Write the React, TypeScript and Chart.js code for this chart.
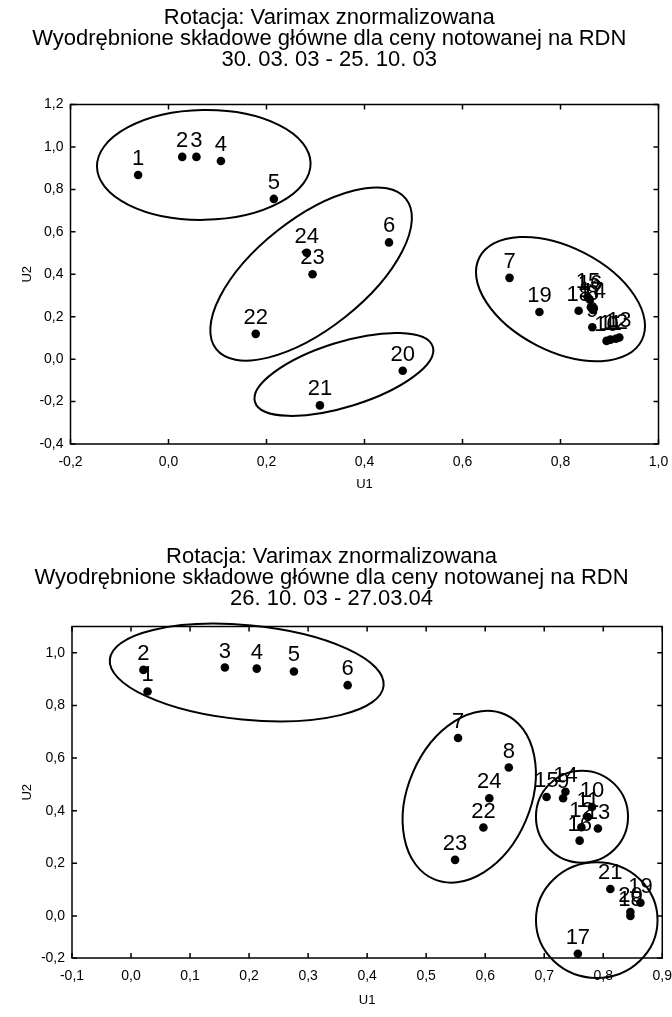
import { useEffect, useRef } from 'react';
import { Chart, registerables } from 'chart.js';

Chart.register(...registerables);

// ---------- Period 1: 30.03.03 - 25.10.03 ----------
const title1 = [
  'Rotacja: Varimax znormalizowana',
  'Wyodrębnione składowe główne dla ceny notowanej na RDN',
  '30. 03. 03 - 25. 10. 03',
];
const ids1 = ['1', '2', '3', '4', '5', '6', '7', '8', '9', '10', '11', '12', '13', '14', '15', '16', '17', '18', '19', '20', '21', '22', '23', '24'];
const u1Period1 = [-0.062, 0.028, 0.057, 0.107, 0.215, 0.45, 0.696, 0.866, 0.865, 0.894, 0.902, 0.913, 0.92, 0.868, 0.856, 0.86, 0.862, 0.837, 0.757, 0.478, 0.309, 0.178, 0.294, 0.282];
const u2Period1 = [0.868, 0.953, 0.953, 0.934, 0.755, 0.55, 0.383, 0.232, 0.15, 0.086, 0.092, 0.096, 0.102, 0.24, 0.29, 0.28, 0.245, 0.228, 0.222, -0.055, -0.218, 0.119, 0.4, 0.501];
const xTicks1 = [-0.2, 0, 0.2, 0.4, 0.6, 0.8, 1.0];
const yTicks1 = [-0.4, -0.2, 0, 0.2, 0.4, 0.6, 0.8, 1.0, 1.2];
// cluster outlines: centre (U1, U2), semi-axes in U1 units, rotation in degrees
const clusterCx1 = [0.072, 0.291, 0.358, 0.8];
const clusterCy1 = [0.915, 0.401, -0.072, 0.283];
const clusterA1 = [0.218, 0.247, 0.19, 0.186];
const clusterB1 = [0.112, 0.112, 0.066, 0.106];
const clusterRot1 = [-1, -38.4, -17.3, 27.1];

// ---------- Period 2: 26.10.03 - 27.03.04 ----------
const title2 = [
  'Rotacja: Varimax znormalizowana',
  'Wyodrębnione składowe główne dla ceny notowanej na RDN',
  '26. 10. 03 - 27.03.04',
];
const ids2 = ['1', '2', '3', '4', '5', '6', '7', '8', '9', '10', '11', '12', '13', '14', '15', '16', '17', '18', '19', '20', '21', '22', '23', '24'];
const u1Period2 = [0.028, 0.021, 0.159, 0.213, 0.276, 0.367, 0.554, 0.64, 0.732, 0.781, 0.774, 0.763, 0.791, 0.736, 0.704, 0.76, 0.757, 0.846, 0.863, 0.846, 0.812, 0.597, 0.549, 0.607];
const u2Period2 = [0.853, 0.935, 0.944, 0.94, 0.929, 0.877, 0.676, 0.564, 0.447, 0.414, 0.376, 0.337, 0.332, 0.472, 0.452, 0.286, -0.144, 0.0, 0.05, 0.015, 0.102, 0.336, 0.213, 0.447];
const xTicks2 = [-0.1, 0, 0.1, 0.2, 0.3, 0.4, 0.5, 0.6, 0.7, 0.8, 0.9];
const yTicks2 = [-0.16, 0, 0.2, 0.4, 0.6, 0.8, 1.0];
const clusterCx2 = [0.196, 0.573, 0.764, 0.789];
const clusterCy2 = [0.925, 0.453, 0.377, -0.016];
const clusterA2 = [0.233, 0.152, 0.078, 0.103];
const clusterB2 = [0.08, 0.104, 0.078, 0.098];
const clusterRot2 = [5.5, -66.8, 0, 0];

const FONT = "'Liberation Sans', Arial, Helvetica, sans-serif";

const fmt = (v: number) => (Math.abs(v) < 1e-9 ? 0 : v).toFixed(1).replace('.', ',');

type PanelProps = {
  title: string[];
  ids: string[];
  xs: number[];
  ys: number[];
  xTicks: number[];
  yTicks: number[];
  xMin: number;
  xMax: number;
  yMin: number;
  yMax: number;
  cx: number[];
  cy: number[];
  ca: number[];
  cb: number[];
  crot: number[];
  height: number;
  titleTop: number;
  titleGap: number;
  yAxisWidth: number;
  xAxisHeight: number;
  rightPad: number;
  xTitleBottom: number;
};

function ScatterPanel(p: PanelProps) {
  const ref = useRef<HTMLCanvasElement | null>(null);

  useEffect(() => {
    if (!ref.current) return;

    const outlinePlugin = {
      id: 'clusterOutlines',
      afterDatasetsDraw(chart: any) {
        const ctx = chart.ctx;
        const sx = chart.scales.x;
        const sy = chart.scales.y;
        const unit = Math.abs(sx.getPixelForValue(1) - sx.getPixelForValue(0));
        ctx.save();
        ctx.strokeStyle = '#000';
        ctx.lineWidth = 2;
        p.cx.forEach((c, i) => {
          ctx.beginPath();
          ctx.ellipse(
            sx.getPixelForValue(c),
            sy.getPixelForValue(p.cy[i]),
            p.ca[i] * unit,
            p.cb[i] * unit,
            (p.crot[i] * Math.PI) / 180,
            0,
            Math.PI * 2
          );
          ctx.stroke();
        });
        ctx.restore();
      },
    };

    const labelPlugin = {
      id: 'pointIds',
      afterDatasetsDraw(chart: any) {
        const ctx = chart.ctx;
        const meta = chart.getDatasetMeta(0);
        const data = chart.data.datasets[0].data as any[];
        ctx.save();
        ctx.fillStyle = '#000';
        ctx.font = `22px ${FONT}`;
        ctx.textAlign = 'center';
        ctx.textBaseline = 'alphabetic';
        meta.data.forEach((el: any, i: number) => {
          ctx.fillText(data[i].id, el.x, el.y - 10);
        });
        ctx.restore();
      },
    };

    const framePlugin = {
      id: 'frame',
      afterDraw(chart: any) {
        const ctx = chart.ctx;
        const { left, right, top, bottom } = chart.chartArea;
        const sx = chart.scales.x;
        const sy = chart.scales.y;
        const t = 5;
        ctx.save();
        ctx.strokeStyle = '#000';
        ctx.lineWidth = 1.5;
        ctx.strokeRect(left, top, right - left, bottom - top);
        ctx.beginPath();
        sx.ticks.forEach((tk: any) => {
          const x = sx.getPixelForValue(tk.value);
          ctx.moveTo(x, bottom);
          ctx.lineTo(x, bottom - t);
          ctx.moveTo(x, top);
          ctx.lineTo(x, top + t);
        });
        sy.ticks.forEach((tk: any) => {
          const y = sy.getPixelForValue(tk.value);
          ctx.moveTo(left, y);
          ctx.lineTo(left + t, y);
          ctx.moveTo(right, y);
          ctx.lineTo(right - t, y);
        });
        ctx.stroke();
        ctx.restore();
      },
    };

    const chart = new Chart(ref.current, {
      type: 'scatter',
      data: {
        datasets: [
          {
            data: p.ids.map((id, i) => ({ x: p.xs[i], y: p.ys[i], id })) as any,
            backgroundColor: '#000',
            borderColor: '#000',
            borderWidth: 0,
            pointRadius: 4.3,
            pointHoverRadius: 4.3,
          },
        ],
      },
      options: {
        animation: false,
        responsive: true,
        maintainAspectRatio: false,
        events: [],
        layout: { padding: { left: 0, right: p.rightPad, top: 0, bottom: 0 } },
        plugins: {
          legend: { display: false },
          tooltip: { enabled: false },
          title: {
            display: true,
            text: p.title,
            color: '#000',
            font: { family: FONT, size: 22, weight: 'normal', lineHeight: 21 / 22 },
            padding: { top: p.titleTop, bottom: p.titleGap },
          },
        },
        scales: {
          x: {
            type: 'linear',
            min: p.xMin,
            max: p.xMax,
            afterBuildTicks: (s: any) => {
              s.ticks = p.xTicks.map((v) => ({ value: v }));
            },
            afterFit: (s: any) => {
              s.height = p.xAxisHeight;
            },
            ticks: {
              callback: (v: any) => fmt(Number(v)),
              color: '#000',
              font: { family: FONT, size: 14 },
              padding: 0,
              autoSkip: false,
              maxRotation: 0,
            },
            grid: { display: false, drawTicks: true, tickLength: 10 },
            border: { display: false },
            title: {
              display: true,
              text: 'U1',
              color: '#000',
              font: { family: FONT, size: 13 },
              padding: { top: 0, bottom: p.xTitleBottom },
            },
          },
          y: {
            type: 'linear',
            min: p.yMin,
            max: p.yMax,
            afterBuildTicks: (s: any) => {
              s.ticks = p.yTicks.map((v) => ({ value: v }));
            },
            afterFit: (s: any) => {
              s.width = p.yAxisWidth;
            },
            ticks: {
              callback: (v: any) => fmt(Number(v)),
              color: '#000',
              font: { family: FONT, size: 14 },
              padding: 0,
              autoSkip: false,
            },
            grid: { display: false, drawTicks: true, tickLength: 7 },
            border: { display: false },
            title: {
              display: true,
              text: 'U2',
              color: '#000',
              font: { family: FONT, size: 13 },
              padding: { top: 20, bottom: 0 },
            },
          },
        },
      } as any,
      plugins: [outlinePlugin, labelPlugin, framePlugin],
    });

    return () => chart.destroy();
  }, []);

  return (
    <div style={{ position: 'relative', width: 672, height: p.height }}>
      <canvas ref={ref} />
    </div>
  );
}

export default function App() {
  return (
    <div style={{ position: 'absolute', left: 0, top: 0, width: 672, height: 1017, background: '#fff' }}>
      <ScatterPanel
        title={title1}
        ids={ids1}
        xs={u1Period1}
        ys={u2Period1}
        xTicks={xTicks1}
        yTicks={yTicks1}
        xMin={-0.2}
        xMax={1.0}
        yMin={-0.4}
        yMax={1.2}
        cx={clusterCx1}
        cy={clusterCy1}
        ca={clusterA1}
        cb={clusterB1}
        crot={clusterRot1}
        height={500}
        titleTop={7.5}
        titleGap={34}
        yAxisWidth={70.5}
        xAxisHeight={56}
        rightPad={13.5}
        xTitleBottom={8}
      />
      <ScatterPanel
        title={title2}
        ids={ids2}
        xs={u1Period2}
        ys={u2Period2}
        xTicks={xTicks2}
        yTicks={yTicks2}
        xMin={-0.1}
        xMax={0.9}
        yMin={-0.16}
        yMax={1.1}
        cx={clusterCx2}
        cy={clusterCy2}
        ca={clusterA2}
        cb={clusterB2}
        crot={clusterRot2}
        height={517}
        titleTop={46.5}
        titleGap={17}
        yAxisWidth={72}
        xAxisHeight={59}
        rightPad={9}
        xTitleBottom={9}
      />
    </div>
  );
}
